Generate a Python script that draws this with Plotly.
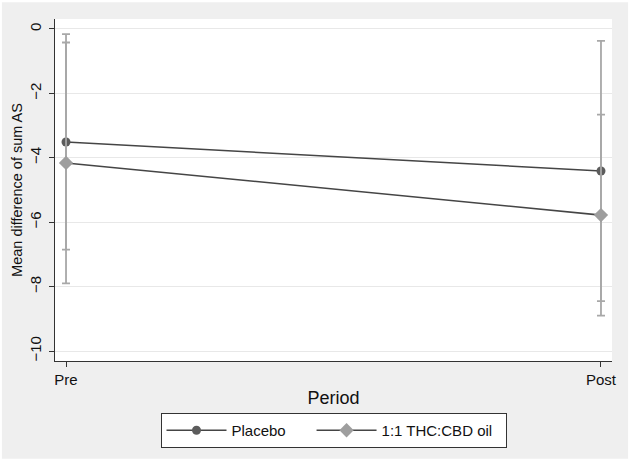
import plotly.graph_objects as go

periods = ["Pre", "Post"]
period_pos = [0, 1]

placebo_mean = [-3.51, -4.41]
placebo_lo = [-6.85, -8.45]
placebo_hi = [-0.16, -0.37]

thc_mean = [-4.16, -5.78]
thc_lo = [-7.90, -8.90]
thc_hi = [-0.42, -2.66]

y_ticks = [0, -2, -4, -6, -8, -10]

FONT = "Liberation Sans, Arial, Helvetica, sans-serif"
PAD = "\u00a0"


def _trace(name, mean, lo, hi, symbol, color):
    return go.Scatter(
        x=period_pos,
        y=mean,
        name=name,
        mode="lines+markers",
        line=dict(color="#454545", width=1.6),
        marker=dict(symbol=symbol, size=11 if symbol == "diamond" else 9, color=color),
        error_y=dict(
            type="data",
            symmetric=False,
            array=[h - m for h, m in zip(hi, mean)],
            arrayminus=[m - l for m, l in zip(mean, lo)],
            color="#a8a8a8",
            thickness=1.8,
            width=4,
        ),
    )


fig = go.Figure()
# trailing non-breaking spaces only widen the legend gaps like the original
fig.add_trace(_trace("Placebo" + PAD * 5, placebo_mean, placebo_lo, placebo_hi, "circle", "#5c5c5c"))
fig.add_trace(_trace("1:1 THC:CBD oil" + PAD * 2, thc_mean, thc_lo, thc_hi, "diamond", "#9e9e9e"))

fig.update_layout(
    width=630,
    height=461,
    paper_bgcolor="#efefef",
    plot_bgcolor="white",
    margin=dict(l=55, r=18, t=19, b=100, autoexpand=False),
    font=dict(family=FONT, size=15, color="#111"),
    showlegend=True,
    legend=dict(
        orientation="h",
        xanchor="center",
        x=0.5,
        yanchor="top",
        y=-0.152,
        bgcolor="white",
        bordercolor="#333",
        borderwidth=1,
        itemwidth=60,
        font=dict(size=15),
    ),
    shapes=[
        dict(
            type="rect",
            xref="paper",
            yref="paper",
            x0=-55 / 557 - 0.002,
            x1=1 + 18 / 557 + 0.002,
            y0=-100 / 342 - 0.002,
            y1=1 + 19 / 342 + 0.002,
            line=dict(color="white", width=6),
            layer="above",
        )
    ],
)
fig.update_xaxes(
    range=[-0.0206, 1.0206],
    tickvals=period_pos,
    ticktext=periods,
    ticks="outside",
    ticklen=5,
    tickcolor="#333",
    showgrid=False,
    showline=True,
    linecolor="#333",
    linewidth=1,
    title=dict(text="Period", standoff=4),
    zeroline=False,
    automargin=False,
)
fig.update_yaxes(
    range=[-10.31, 0.31],
    tickvals=y_ticks,
    ticks="outside",
    ticklen=5,
    tickcolor="#333",
    tickangle=-90,
    ticklabelstandoff=2,
    showgrid=True,
    gridcolor="#e8e8e8",
    gridwidth=1,
    showline=True,
    linecolor="#333",
    linewidth=1,
    zeroline=False,
    automargin=False,
    title=dict(text="Mean difference of sum AS", standoff=0, font=dict(size=14.5)),
)

fig.write_html(
    "out.html",
    config={"displayModeBar": False},
    post_script="document.body.style.margin='0';",
)
